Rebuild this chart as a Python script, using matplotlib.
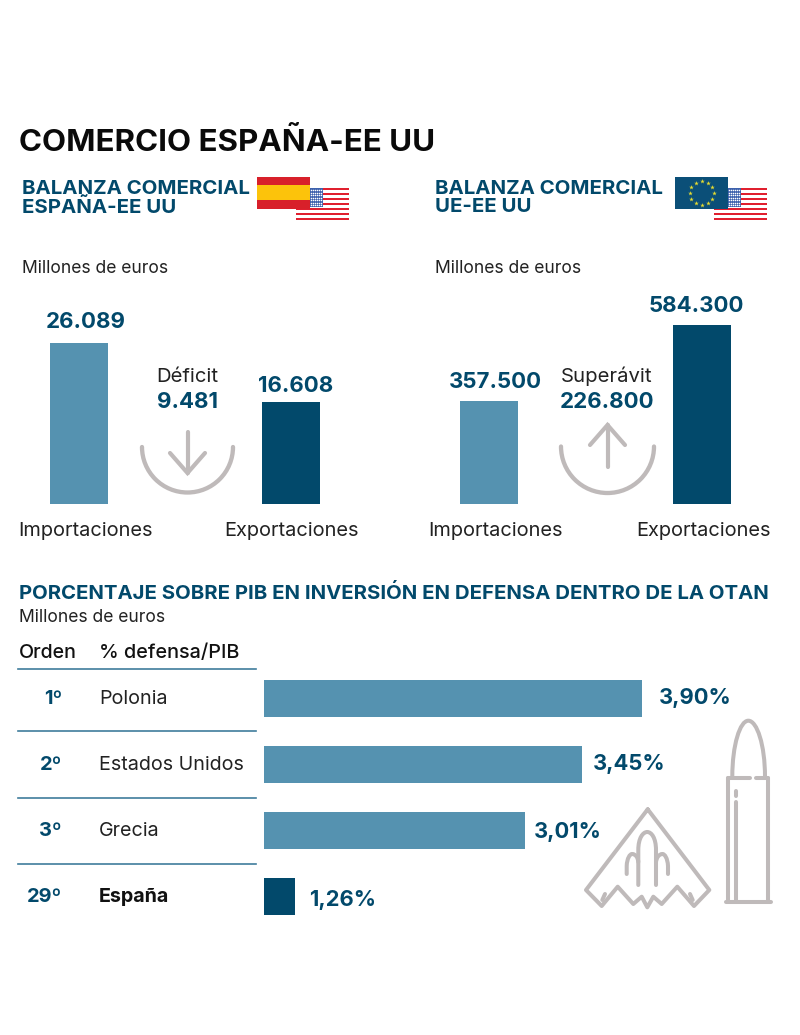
# comercio espana-ee uu infographic
import numpy as np
import matplotlib
matplotlib.use("Agg")
import matplotlib.pyplot as plt
from matplotlib.patches import Rectangle, Arc, PathPatch
from matplotlib.path import Path

plt.rcParams['font.family'] = ['Inter', 'DejaVu Sans']

DARK = "#02496b"
MID = "#5592b0"
GREY = "#bfbaba"
INK = "#222222"

# data
trade_cats = ["Importaciones", "Exportaciones"]
spain_vals = [26089, 16608]
spain_labels = ["26.089", "16.608"]
eu_labels = ["357.500", "584.300"]
# the bars in the source are not to scale, this is the height as drawn
eu_drawn = [334600, 584300]

rank = ["1º", "2º", "3º", "29º"]
countries = ["Polonia", "Estados Unidos", "Grecia", "España"]
pct_labels = ["3,90%", "3,45%", "3,01%", "1,26%"]
# bar length as drawn in the source, read against the 3,90 bar
pct_drawn = [3.90, 3.28, 2.69, 0.32]

W, H = 800, 1035
fig = plt.figure(figsize=(W / 100, H / 100), dpi=100)

# background layer in pixel coordinates for text and icons
bg = fig.add_axes([0, 0, 1, 1])
bg.set_xlim(0, W)
bg.set_ylim(H, 0)
bg.axis("off")


def box_axes(x0, y0, x1, y1):
    ax = fig.add_axes([x0 / W, 1 - y1 / H, (x1 - x0) / W, (y1 - y0) / H])
    ax.axis("off")
    ax.patch.set_alpha(0)
    return ax


def txt(x, y, s, size=13, color=INK, weight="normal", ha="left"):
    bg.text(x, y + 2.5, s, fontsize=size, color=color, fontweight=weight, ha=ha, va="center", zorder=5)


def trade_bars(x0, x1, top, vals):
    # x0, x1 outer edges of the two bars, each bar is 58 px wide
    step = x1 - x0 - 58
    ax = box_axes(x0, top, x1, 504)
    ax.bar([0, 1], vals, width=58 / step, color=[MID, DARK])
    ax.set_xlim(-29 / step, 1 + 29 / step)
    ax.set_ylim(0, max(vals))


def us_flag(x, y):
    w, h = 53, 32
    for i in range(7):
        bg.add_patch(Rectangle((x, y + i * h / 6.5), w, h / 13, color="#e0202f", lw=0))
    bg.add_patch(Rectangle((x, y), 27, 19, color="#3e62ad", lw=0))
    sx = [x + 15 + 2 * i for i in range(6)]
    sy = [y + 2 + 2.5 * j for j in range(7)]
    gx, gy = np.meshgrid(sx, sy)
    bg.scatter(gx.ravel(), gy.ravel(), s=1.2, color="white", lw=0)


def spain_flag(x, y):
    w, h = 53, 32
    bg.add_patch(Rectangle((x, y), w, h, color="#d8202a", lw=0, zorder=3))
    bg.add_patch(Rectangle((x, y + 8), w, 15, color="#fcc30b", lw=0, zorder=3))


def eu_flag(x, y):
    w, h = 53, 32
    bg.add_patch(Rectangle((x, y), w, h, color="#0b4f78", lw=0, zorder=3))
    a = np.arange(12) * np.pi / 6
    bg.scatter(x + w / 2 + 12 * np.cos(a), y + h / 2 + 12 * np.sin(a), s=12, marker="*",
               color="#e6dc30", lw=0, zorder=4)


def arrow_bowl(cx, cy, r, up):
    bg.add_patch(Arc((cx, cy), 2 * r, 2 * r, theta1=0, theta2=180, color=GREY, lw=3.1, capstyle="round"))
    if up:
        top, bot = 425, 467
        xs, ys = [cx - 17.5, cx, cx + 17.5], [top + 20, top, top + 20]
    else:
        top, bot = 432, 473
        xs, ys = [cx - 17.5, cx, cx + 17.5], [bot - 20, bot, bot - 20]
    bg.plot([cx, cx], [top, bot], color=GREY, lw=3, solid_capstyle="round")
    bg.plot(xs, ys, color=GREY, lw=3, solid_capstyle="round", solid_joinstyle="miter")


def curve(verts, codes):
    bg.add_patch(PathPatch(Path(verts, codes), fc="none", ec=GREY, lw=2.9, capstyle="round", joinstyle="round"))


def line(xs, ys):
    bg.plot(xs, ys, color=GREY, lw=2.9, solid_capstyle="round", solid_joinstyle="round")


# header
txt(19, 140, "COMERCIO ESPAÑA-EE UU", size=22.55, color="#0a0a0a", weight="bold")
txt(22, 186, "BALANZA COMERCIAL", size=14.7, color=DARK, weight="bold")
txt(22, 205, "ESPAÑA-EE UU", size=14.7, color=DARK, weight="bold")
txt(435, 186, "BALANZA COMERCIAL", size=14.7, color=DARK, weight="bold")
txt(435, 205, "UE-EE UU", size=14.7, color=DARK, weight="bold")
us_flag(296, 188)
spain_flag(257, 177)
us_flag(714, 188)
eu_flag(675, 177)
txt(22, 266, "Millones de euros", size=12.6)
txt(435, 266, "Millones de euros", size=12.6)

# trade bars
trade_bars(50, 320, 343, spain_vals)
trade_bars(459.5, 731, 325, eu_drawn)

txt(86, 319, spain_labels[0], size=16, color=DARK, weight="bold", ha="center")
txt(295.5, 383, spain_labels[1], size=16, color=DARK, weight="bold", ha="center")
txt(495.5, 379, eu_labels[0], size=16, color=DARK, weight="bold", ha="center")
txt(696, 304, eu_labels[1], size=16, color=DARK, weight="bold", ha="center")

txt(86, 528, trade_cats[0], size=14.4, ha="center")
txt(292, 528, trade_cats[1], size=14.4, ha="center")
txt(496, 528, trade_cats[0], size=14.4, ha="center")
txt(703, 528, trade_cats[1], size=14.4, ha="center")

# balance labels and icons
txt(187.5, 374, "Déficit", size=14.6, ha="center")
txt(187.5, 400, "9.481", size=16, color=DARK, weight="bold", ha="center")
txt(607, 374, "Superávit", size=14.6, ha="center")
txt(607, 400, "226.800", size=16, color=DARK, weight="bold", ha="center")
arrow_bowl(187.5, 447, 45.5, False)
arrow_bowl(607.5, 446.5, 46.5, True)

# defence section
txt(19, 591, "PORCENTAJE SOBRE PIB EN INVERSIÓN EN DEFENSA DENTRO DE LA OTAN", size=14.65, color=DARK, weight="bold")
txt(19, 615, "Millones de euros", size=12.6)
txt(19, 650, "Orden", size=14.1, color="#111111", weight="medium")
txt(99, 650, "% defensa/PIB", size=14.3, color="#111111", weight="medium")
for y in [668.5, 731, 798, 864]:
    bg.plot([18, 256], [y, y], color="#3f7d9c", lw=1.2)
row_y = [697, 763, 829, 895]
for i, y in enumerate(row_y):
    txt(62, y, rank[i], size=14.4, color=DARK, weight="bold", ha="right")
    txt(99, y, countries[i], size=14.2, color="#111111" if i == 3 else INK, weight="bold" if i == 3 else "normal")

ax_pct = box_axes(264, 680, 642, 915)
ypos = list(range(4))
ax_pct.barh(ypos, pct_drawn, height=37 / 65.7, color=[MID, MID, MID, DARK])
ax_pct.set_xlim(0, 3.90)
ax_pct.set_ylim(3 + 18.5 / 65.7, -18.5 / 65.7)

txt(659, 696, pct_labels[0], size=15.8, color=DARK, weight="bold")
txt(592.5, 761, pct_labels[1], size=15.8, color=DARK, weight="bold")
txt(534, 829, pct_labels[2], size=15.8, color=DARK, weight="bold")
txt(309, 897, pct_labels[3], size=15.8, color=DARK, weight="bold")

# bomber icon
line([647.7, 586, 601.7, 617.7, 633.3, 641.7, 647.3, 653.3, 661.7, 677.3, 694, 709.3, 647.7],
     [809.3, 890, 906, 886.7, 904, 896.7, 907.3, 896.7, 904, 886.7, 906, 890, 809.3])
line([602.3, 605], [900, 894])
line([692.7, 690], [900, 894])
C4, M, L = Path.CURVE4, Path.MOVETO, Path.LINETO
curve([(638.3, 885), (638.3, 850), (638.3, 838), (643, 832), (647.2, 832), (651.5, 832), (656, 838), (656, 850), (656, 885)],
      [M, L, C4, C4, C4, C4, C4, C4, L])
curve([(626.7, 874), (626.7, 866), (627, 858), (630, 854), (632, 854), (636, 854), (638, 858), (638.3, 862)],
      [M, L, C4, C4, C4, C4, C4, C4])
curve([(668, 874), (668, 866), (667.6, 858), (664.6, 854), (662.6, 854), (658.6, 854), (656.5, 858), (656, 862)],
      [M, L, C4, C4, C4, C4, C4, C4])

# bullet icon
curve([(732.3, 776.7), (732.3, 745), (740, 720.7), (748.3, 720.7), (757, 720.7), (765, 745), (765, 776.7)],
      [M, C4, C4, C4, C4, C4, C4])
line([728.3, 750], [778, 778])
line([756, 768.3], [778, 778])
line([728.3, 728.3], [778, 901.7])
line([768.3, 768.3], [778, 901.7])
line([726, 770.7], [901.7, 901.7])
line([736, 736], [801.7, 901.7])
line([736, 736], [791, 796])

fig.savefig("out.png", dpi=100)
